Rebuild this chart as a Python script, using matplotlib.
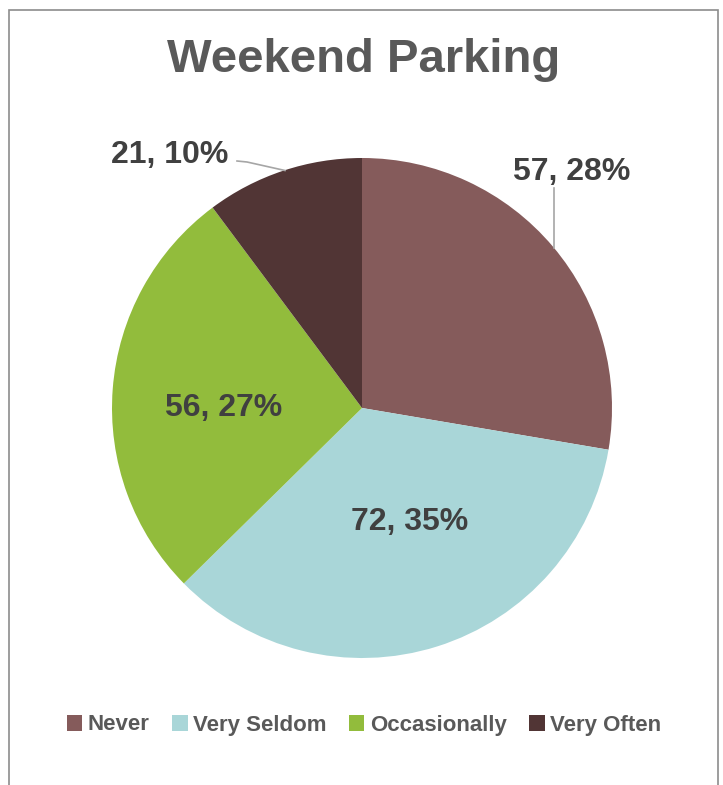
import matplotlib
matplotlib.use("Agg")
import matplotlib.pyplot as plt
from matplotlib.patches import Rectangle, Patch

categories = ["Never", "Very Seldom", "Occasionally", "Very Often"]
values = [57, 72, 56, 21]
percents = ["28%", "35%", "27%", "10%"]
colors = ["#855B5B", "#A9D6D8", "#92BC3C", "#513535"]
title = "Weekend Parking"

plt.rcParams['font.family'] = ['Liberation Sans', 'DejaVu Sans']

fig = plt.figure(figsize=(7.23, 7.85), dpi=100)
W, H = 723, 785

# border
fig.patches.append(Rectangle((9 / W, -0.05), (718 - 9) / W, 1.05 - 10 / H,
                             transform=fig.transFigure, fill=False,
                             edgecolor="#8c8c8c", linewidth=1.2))

ax = fig.add_axes([112 / W, 127 / H, 500 / W, 500 / H])
ax.pie(values, colors=colors, startangle=90, counterclock=False,
       wedgeprops=dict(linewidth=0), radius=1.0)
ax.set_xlim(-1, 1)
ax.set_ylim(-1, 1)
ax.set_aspect("equal")
ax.axis("off")

labels = [f"{v}, {p}" for v, p in zip(values, percents)]
label_pos = [(0.84, 0.944), (0.192, -0.456), (-0.552, 0.0), (-0.768, 1.012)]
for lab, (x, y) in zip(labels, label_pos):
    ax.text(x, y, lab, ha="center", va="center", fontsize=23,
            fontweight="bold", color="#404040", clip_on=False)

# leader lines
ax.plot([0.768, 0.768], [0.88, 0.64], color="#a6a6a6", lw=1.2, clip_on=False)
ax.plot([-0.50, -0.46, -0.308], [0.988, 0.984, 0.950], color="#a6a6a6",
        lw=1.2, clip_on=False)

fig.text(364 / W, 1 - 60 / H, title, ha="center", va="center",
         fontsize=34, fontweight="bold", color="#595959")

handles = [Patch(facecolor=c, edgecolor="none") for c in colors]
leg = fig.legend(handles, categories, loc="center", ncol=4,
                 bbox_to_anchor=(364 / W, 1 - 725 / H), frameon=False,
                 handlelength=0.7, handleheight=0.7, handletextpad=0.25,
                 columnspacing=1.0,
                 prop=dict(family=['Liberation Sans', 'DejaVu Sans'],
                           weight="bold", size=16))
for t in leg.get_texts():
    t.set_color("#595959")

fig.savefig("out.png", dpi=100)
